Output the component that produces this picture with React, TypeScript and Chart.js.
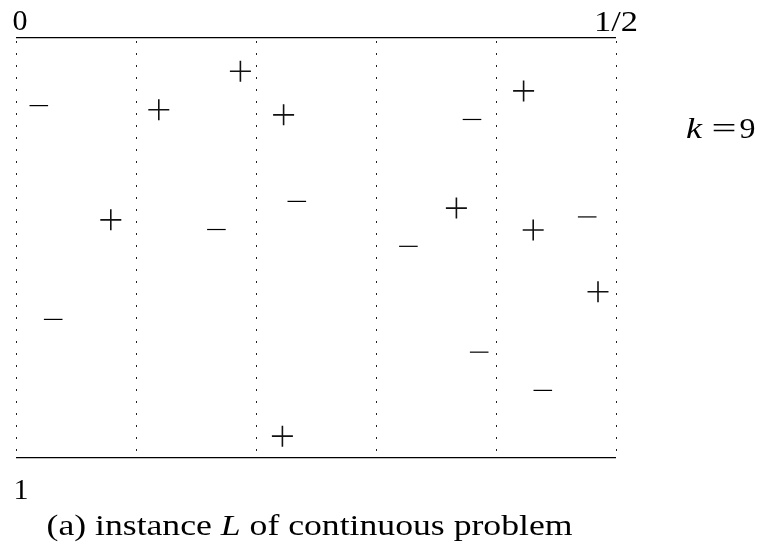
import React, { useEffect, useRef } from "react";
import { Chart, registerables } from "chart.js";

Chart.register(...registerables);

// Column boundaries (dotted verticals) on the horizontal [0, 1/2] interval
const columnBounds = [0, 0.1, 0.2, 0.3, 0.4, 0.5];
// Solid horizontal borders on the vertical [0, 1] interval
const rowBounds = [0, 1];

// "+" points
const plusX = [0.187, 0.119, 0.223, 0.423, 0.079, 0.367, 0.431, 0.485, 0.222];
const plusY = [0.079, 0.171, 0.183, 0.126, 0.433, 0.405, 0.457, 0.604, 0.948];
// "−" points
const minusX = [0.019, 0.380, 0.234, 0.167, 0.327, 0.476, 0.031, 0.386, 0.439];
const minusY = [0.161, 0.194, 0.389, 0.456, 0.496, 0.426, 0.670, 0.748, 0.839];

const topLabels = ["0", "1/2"]; // at x = 0 and x = 1/2
const bottomLabel = "1"; // at y = 1
const kName = "k";
const kValue = "9";
const captionParts = ["(a) instance ", "L", " of continuous problem"];

const FONT = '"Liberation Serif", "Times New Roman", serif';
const SIZE = 30;

type Seg = { t: string; i: boolean };

function drawSegs(
  ctx: CanvasRenderingContext2D,
  segs: Seg[],
  x: number,
  y: number,
  align: "left" | "center" | "right",
  targetW: number | null
) {
  const fontFor = (it: boolean) => `${it ? "italic " : ""}${SIZE}px ${FONT}`;
  let w = 0;
  const ws: number[] = [];
  for (const s of segs) {
    ctx.font = fontFor(s.i);
    const m = ctx.measureText(s.t).width;
    ws.push(m);
    w += m;
  }
  const sx = targetW ? targetW / w : 1;
  const total = w * sx;
  const start = align === "center" ? x - total / 2 : align === "right" ? x - total : x;
  ctx.save();
  ctx.translate(start, y);
  ctx.scale(sx, 1);
  ctx.textAlign = "left";
  ctx.textBaseline = "alphabetic";
  ctx.fillStyle = "#000";
  let cx = 0;
  segs.forEach((s, idx) => {
    ctx.font = fontFor(s.i);
    ctx.fillText(s.t, cx, 0);
    cx += ws[idx];
  });
  ctx.restore();
}

const textPlugin = {
  id: "latexText",
  afterDraw(chart: any) {
    const ctx: CanvasRenderingContext2D = chart.ctx;
    const xs = chart.scales.x;
    const ys = chart.scales.y;
    const x0 = xs.getPixelForValue(columnBounds[0]);
    const x1 = xs.getPixelForValue(columnBounds[columnBounds.length - 1]);
    const yTop = ys.getPixelForValue(rowBounds[0]);
    const yBot = ys.getPixelForValue(rowBounds[1]);

    drawSegs(ctx, [{ t: topLabels[0], i: false }], x0 + 4, yTop - 8, "center", 15);
    drawSegs(ctx, [{ t: topLabels[1], i: false }], x1, yTop - 7, "center", 44);
    drawSegs(ctx, [{ t: bottomLabel, i: false }], x0 + 5, yBot + 41, "center", null);

    // k = 9
    const kBase = yTop + 100;
    drawSegs(ctx, [{ t: kName, i: true }], x1 + 70, kBase, "left", 16);
    drawSegs(ctx, [{ t: "=", i: false }], x1 + 108, kBase, "center", 25);
    drawSegs(ctx, [{ t: kValue, i: false }], x1 + 131.5, kBase, "center", 16);

    // caption
    drawSegs(
      ctx,
      [
        { t: captionParts[0], i: false },
        { t: captionParts[1], i: true },
        { t: captionParts[2], i: false },
      ],
      309.5,
      yBot + 77,
      "center",
      526
    );
  },
};

export default function App() {
  const ref = useRef<HTMLCanvasElement | null>(null);

  useEffect(() => {
    if (!ref.current) return;
    let chart: Chart | null = null;
    let cancelled = false;
    const make = () => {
      if (cancelled || !ref.current) return;
      chart = new Chart(ref.current, {
        type: "scatter",
        data: {
          datasets: [
            {
              label: "+",
              data: plusX.map((x, i) => ({ x, y: plusY[i] })),
              pointStyle: "cross",
              pointRadius: 10.5,
              pointHoverRadius: 10.5,
              borderColor: "#111",
              backgroundColor: "#111",
              pointBorderWidth: 1.6,
              borderWidth: 1.6,
            },
            {
              label: "−",
              data: minusX.map((x, i) => ({ x, y: minusY[i] })),
              pointStyle: "line",
              pointRadius: 9.3,
              pointHoverRadius: 9.3,
              borderColor: "#000",
              backgroundColor: "#000",
              pointBorderWidth: 1.2,
              borderWidth: 1.2,
            },
          ],
        },
        options: {
          animation: false,
          responsive: true,
          maintainAspectRatio: false,
          layout: { padding: { left: 16, right: 151, top: 38, bottom: 90 } },
          plugins: {
            legend: { display: false },
            tooltip: { enabled: false },
          },
          events: [],
          scales: {
            x: {
              type: "linear",
              min: columnBounds[0],
              max: columnBounds[columnBounds.length - 1],
              afterBuildTicks: (scale: any) => {
                scale.ticks = columnBounds.map((v) => ({ value: v }));
              },
              ticks: { display: false },
              grid: { color: "#222", lineWidth: 1, drawTicks: false },
              border: { display: false, dash: [2, 10], dashOffset: 9 },
            },
            y: {
              type: "linear",
              reverse: true,
              min: rowBounds[0],
              max: rowBounds[1],
              afterBuildTicks: (scale: any) => {
                scale.ticks = rowBounds.map((v) => ({ value: v }));
              },
              ticks: { display: false },
              grid: { color: "#000", lineWidth: 1.3, drawTicks: false },
              border: { display: false },
            },
          },
        },
        plugins: [textPlugin],
      });
    };
    const fonts: any = (document as any).fonts;
    if (fonts && fonts.load) {
      Promise.all([
        fonts.load(`${SIZE}px "Liberation Serif"`),
        fonts.load(`italic ${SIZE}px "Liberation Serif"`),
      ])
        .catch(() => null)
        .then(make);
    } else {
      make();
    }
    return () => {
      cancelled = true;
      if (chart) chart.destroy();
    };
  }, []);

  return (
    <div style={{ position: "fixed", left: 0, top: 0, width: 767, height: 548, background: "#fff" }}>
      <canvas ref={ref} />
    </div>
  );
}
